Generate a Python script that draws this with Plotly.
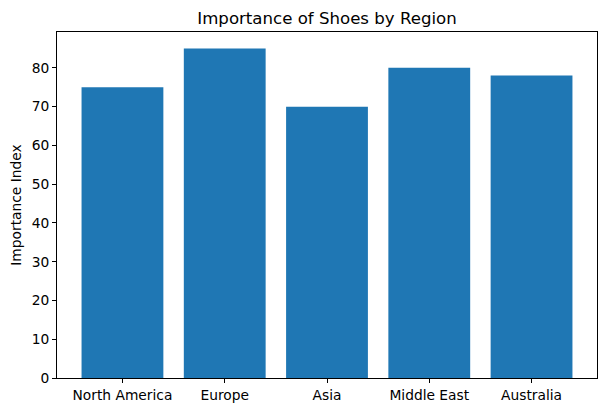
import plotly.graph_objects as go

regions = ["North America", "Europe", "Asia", "Middle East", "Australia"]
importance = [75, 85, 70, 80, 78]
y_ticks = [0, 10, 20, 30, 40, 50, 60, 70, 80]

fig = go.Figure(go.Bar(x=list(range(len(regions))), y=importance, width=0.8,
                       marker=dict(color="#1f77b4", line=dict(width=0))))

font = dict(family="DejaVu Sans", size=13.8, color="black")
fig.update_layout(
    width=609, height=412,
    margin=dict(l=57, r=12, t=32, b=34, autoexpand=False),
    paper_bgcolor="white", plot_bgcolor="white",
    font=font,
    title=dict(text="Importance of Shoes by Region", x=(57 + 597) / 2 / 609, xanchor="center",
               y=1 - 18 / 412, yanchor="middle", font=dict(family="DejaVu Sans", size=16.6, color="black")),
    showlegend=False,
)
fig.update_xaxes(range=[-0.64, 4.64], tickvals=list(range(len(regions))), ticktext=regions,
                 showgrid=False, zeroline=False, showline=True, linecolor="black", linewidth=1,
                 mirror=True, ticks="outside", ticklen=4, tickcolor="black", tickwidth=1,
                 automargin=False)
fig.update_yaxes(range=[0, 89.25], tickvals=y_ticks,
                 showgrid=False, zeroline=False, showline=True, linecolor="black", linewidth=1,
                 mirror=True, ticks="outside", ticklen=4, tickcolor="black", tickwidth=1,
                 automargin=False,
                 title=dict(text="Importance Index", standoff=6,
                            font=dict(family="DejaVu Sans", size=13.8, color="black")))
fig.write_html("out.html", config={"displayModeBar": False},
               post_script="document.body.style.margin='0';")
